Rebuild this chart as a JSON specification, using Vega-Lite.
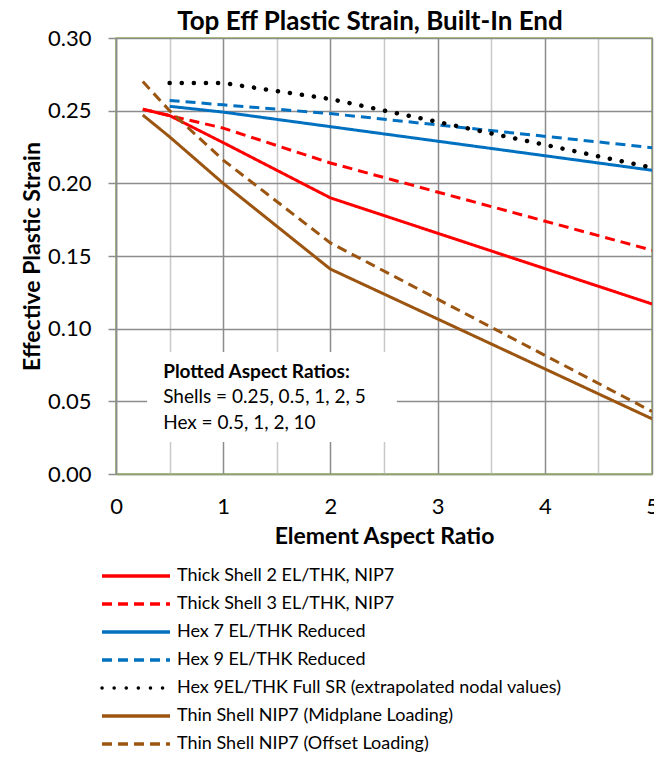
{
  "$schema": "https://vega.github.io/schema/vega-lite/v6.json",
  "width": 536,
  "height": 436,
  "autosize": {"type": "none"},
  "padding": {"left": 116, "top": 38, "right": 2, "bottom": 287},
  "background": "white",
  "title": {"text": "Top Eff Plastic Strain, Built-In End", "font": "Lato", "fontSize": 26, "fontWeight": "bold", "color": "#000", "anchor": "middle", "frame": "group", "offset": -8, "dx": -14},
  "datasets": {
    "lines": [
      {"series": "Thick Shell 2 EL/THK, NIP7", "ratio": 0.25, "strain": 0.251},
      {"series": "Thick Shell 2 EL/THK, NIP7", "ratio": 0.5, "strain": 0.2466},
      {"series": "Thick Shell 2 EL/THK, NIP7", "ratio": 1, "strain": 0.228},
      {"series": "Thick Shell 2 EL/THK, NIP7", "ratio": 2, "strain": 0.19},
      {"series": "Thick Shell 2 EL/THK, NIP7", "ratio": 5, "strain": 0.117},
      {"series": "Thick Shell 3 EL/THK, NIP7", "ratio": 0.25, "strain": 0.251},
      {"series": "Thick Shell 3 EL/THK, NIP7", "ratio": 0.5, "strain": 0.2466},
      {"series": "Thick Shell 3 EL/THK, NIP7", "ratio": 1, "strain": 0.238},
      {"series": "Thick Shell 3 EL/THK, NIP7", "ratio": 2, "strain": 0.214},
      {"series": "Thick Shell 3 EL/THK, NIP7", "ratio": 5, "strain": 0.154},
      {"series": "Hex 7 EL/THK Reduced", "ratio": 0.5, "strain": 0.253},
      {"series": "Hex 7 EL/THK Reduced", "ratio": 1, "strain": 0.249},
      {"series": "Hex 7 EL/THK Reduced", "ratio": 2, "strain": 0.239},
      {"series": "Hex 7 EL/THK Reduced", "ratio": 10, "strain": 0.159},
      {"series": "Hex 9 EL/THK Reduced", "ratio": 0.5, "strain": 0.257},
      {"series": "Hex 9 EL/THK Reduced", "ratio": 1, "strain": 0.254},
      {"series": "Hex 9 EL/THK Reduced", "ratio": 2, "strain": 0.248},
      {"series": "Hex 9 EL/THK Reduced", "ratio": 10, "strain": 0.1855},
      {"series": "Hex 9EL/THK Full SR (extrapolated nodal values)", "ratio": 0.5, "strain": 0.269},
      {"series": "Hex 9EL/THK Full SR (extrapolated nodal values)", "ratio": 1, "strain": 0.269},
      {"series": "Hex 9EL/THK Full SR (extrapolated nodal values)", "ratio": 2, "strain": 0.258},
      {"series": "Hex 9EL/THK Full SR (extrapolated nodal values)", "ratio": 10, "strain": 0.132},
      {"series": "Thin Shell NIP7 (Midplane Loading)", "ratio": 0.25, "strain": 0.247},
      {"series": "Thin Shell NIP7 (Midplane Loading)", "ratio": 0.5, "strain": 0.232},
      {"series": "Thin Shell NIP7 (Midplane Loading)", "ratio": 1, "strain": 0.2},
      {"series": "Thin Shell NIP7 (Midplane Loading)", "ratio": 2, "strain": 0.141},
      {"series": "Thin Shell NIP7 (Midplane Loading)", "ratio": 5, "strain": 0.038},
      {"series": "Thin Shell NIP7 (Offset Loading)", "ratio": 0.25, "strain": 0.27},
      {"series": "Thin Shell NIP7 (Offset Loading)", "ratio": 0.5, "strain": 0.25},
      {"series": "Thin Shell NIP7 (Offset Loading)", "ratio": 1, "strain": 0.216},
      {"series": "Thin Shell NIP7 (Offset Loading)", "ratio": 2, "strain": 0.159},
      {"series": "Thin Shell NIP7 (Offset Loading)", "ratio": 5, "strain": 0.043}
    ]
  },
  "layer": [
    {
      "data": {"values": [{}]},
      "mark": {"type": "rect", "color": "white"},
      "encoding": {
        "x": {"datum": 0.29, "type": "quantitative", "scale": {"domain": [0, 5], "nice": false, "zero": false},
          "axis": {
            "values": [0, 0.5, 1, 1.5, 2, 2.5, 3, 3.5, 4, 4.5, 5],
            "labelExpr": "datum.value % 1 === 0 ? format(datum.value, 'd') : ''",
            "title": "Element Aspect Ratio",
            "ticks": false,
            "labelPadding": 22,
            "labelFontSize": 22,
            "labelFont": "Lato",
            "labelColor": "#000",
            "labelFlush": false,
            "labelBaseline": "top",
            "titleFont": "Lato",
            "titleFontSize": 23,
            "titleFontWeight": "bold",
            "titleColor": "#000",
            "titlePadding": 8,
            "domainColor": "#93a273",
            "domainWidth": 1.5,
            "grid": true,
            "gridColor": {"condition": {"test": "datum.value % 1 === 0", "value": "#8c8c8c"}, "value": "#c8c8c8"},
            "gridWidth": 1.5
          }},
        "x2": {"datum": 2.62},
        "y": {"datum": 0.084, "type": "quantitative", "scale": {"domain": [0, 0.3], "nice": false},
          "axis": {
            "values": [0, 0.05, 0.1, 0.15, 0.2, 0.25, 0.3],
            "format": ".2f",
            "title": "Effective Plastic Strain",
            "tickSize": 8,
            "tickColor": "#8c8c8c",
            "tickWidth": 1.5,
            "labelPadding": 17,
            "labelFontSize": 22,
            "labelFont": "Lato",
            "labelColor": "#000",
            "titleFont": "Lato",
            "titleFontSize": 23,
            "titleFontWeight": "bold",
            "titleColor": "#000",
            "titlePadding": 3,
            "domainColor": "#8c8c8c",
            "domainWidth": 1.5,
            "grid": true,
            "gridColor": "#8c8c8c",
            "gridWidth": 1.5
          }},
        "y2": {"datum": 0.022}
      }
    },
    {
      "data": {"values": [{"line": "Plotted Aspect Ratios:"}]},
      "mark": {"type": "text", "align": "left", "baseline": "middle", "font": "Lato", "fontSize": 19, "fontWeight": "bold", "color": "#000"},
      "encoding": {
        "x": {"datum": 0.44, "type": "quantitative"},
        "y": {"datum": 0.0702, "type": "quantitative"},
        "text": {"field": "line"}
      }
    },
    {
      "data": {"values": [{"line": "Shells = 0.25, 0.5, 1, 2, 5"}]},
      "mark": {"type": "text", "align": "left", "baseline": "middle", "font": "Lato", "fontSize": 19, "color": "#000"},
      "encoding": {
        "x": {"datum": 0.44, "type": "quantitative"},
        "y": {"datum": 0.053, "type": "quantitative"},
        "text": {"field": "line"}
      }
    },
    {
      "data": {"values": [{"line": "Hex = 0.5, 1, 2, 10"}]},
      "mark": {"type": "text", "align": "left", "baseline": "middle", "font": "Lato", "fontSize": 19, "color": "#000"},
      "encoding": {
        "x": {"datum": 0.44, "type": "quantitative"},
        "y": {"datum": 0.035, "type": "quantitative"},
        "text": {"field": "line"}
      }
    },
    {
      "data": {"name": "lines"},
      "transform": [{"filter": "datum.series !== 'Hex 9EL/THK Full SR (extrapolated nodal values)'"}],
      "mark": {"type": "line", "clip": true, "strokeWidth": 3, "strokeCap": "butt"},
      "encoding": {
        "x": {"field": "ratio", "type": "quantitative"},
        "y": {"field": "strain", "type": "quantitative"},
        "detail": {"field": "series"},
        "color": {"field": "series", "type": "nominal", "sort": null,
          "scale": {"domain": ["Thick Shell 2 EL/THK, NIP7", "Thick Shell 3 EL/THK, NIP7", "Hex 7 EL/THK Reduced", "Hex 9 EL/THK Reduced", "Hex 9EL/THK Full SR (extrapolated nodal values)", "Thin Shell NIP7 (Midplane Loading)", "Thin Shell NIP7 (Offset Loading)"],
            "range": ["#ff0000", "#ff0000", "#0070c0", "#0070c0", "#000000", "#9b5511", "#9b5511"]},
          "legend": {
            "title": null, "orient": "none", "legendX": -16, "legendY": 529, "padding": 0,
            "symbolType": "stroke", "symbolSize": 4624, "symbolStrokeWidth": 3.5, "symbolOffset": 0,
            "clipHeight": 18,
            "labelFont": "Lato", "labelFontSize": 18, "labelColor": "#000", "labelLimit": 600, "labelOffset": 5,
            "rowPadding": 10,
            "encode": {"symbols": {"update": {
              "strokeCap": {"signal": "datum.value === 'Hex 9EL/THK Full SR (extrapolated nodal values)' ? 'round' : 'butt'"}
            }}}
          }},
        "strokeDash": {"field": "series", "type": "nominal", "sort": null,
          "scale": {"domain": ["Thick Shell 2 EL/THK, NIP7", "Thick Shell 3 EL/THK, NIP7", "Hex 7 EL/THK Reduced", "Hex 9 EL/THK Reduced", "Hex 9EL/THK Full SR (extrapolated nodal values)", "Thin Shell NIP7 (Midplane Loading)", "Thin Shell NIP7 (Offset Loading)"],
            "range": [[1, 0], [10, 6], [1, 0], [10, 6], [0.1, 12], [1, 0], [10, 6]]},
          "legend": null}
      }
    },
    {
      "data": {"name": "lines"},
      "transform": [{"filter": "datum.series === 'Hex 9EL/THK Full SR (extrapolated nodal values)'"}],
      "mark": {"type": "line", "clip": true, "strokeWidth": 4.5, "strokeCap": "round"},
      "encoding": {
        "x": {"field": "ratio", "type": "quantitative"},
        "y": {"field": "strain", "type": "quantitative"},
        "color": {"field": "series", "type": "nominal", "sort": null},
        "strokeDash": {"field": "series", "type": "nominal", "sort": null, "legend": null}
      }
    }
  ],
  "config": {
    "view": {"stroke": "#9bbb59", "strokeWidth": 1.5},
    "font": "Lato"
  }
}
